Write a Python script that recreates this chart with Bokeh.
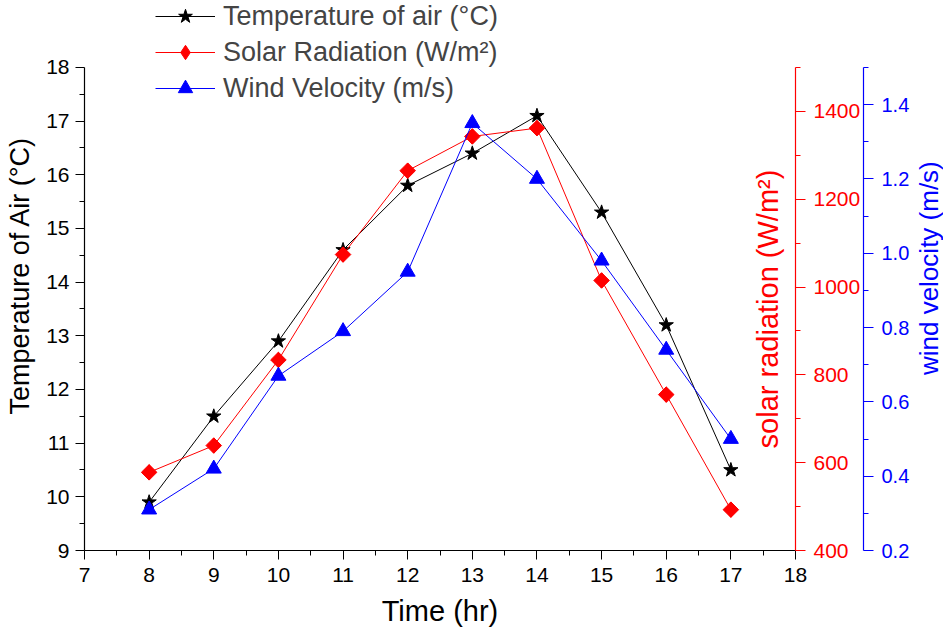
import math
from bokeh.plotting import figure
from bokeh.layouts import row
from bokeh.models import (Range1d, LinearAxis, FixedTicker, PrintfTickFormatter,
                          Label, Legend, LegendItem)
from bokeh.embed import file_html
from bokeh.resources import INLINE

# ---- data ----
time_hr = [8, 9, 10, 11, 12, 13, 14, 15, 16, 17]
temperature_air = [9.9, 11.5, 12.9, 14.6, 15.8, 16.4, 17.1, 15.3, 13.2, 10.5]
solar_radiation = [578, 639, 834, 1074, 1265, 1343, 1362, 1015, 755, 493]
wind_velocity = [0.31, 0.42, 0.67, 0.79, 0.95, 1.35, 1.20, 0.98, 0.74, 0.50]

x_ticks = [7, 8, 9, 10, 11, 12, 13, 14, 15, 16, 17, 18]
x_minor = [7.5, 8.5, 9.5, 10.5, 11.5, 12.5, 13.5, 14.5, 15.5, 16.5, 17.5]
temp_ticks = [9, 10, 11, 12, 13, 14, 15, 16, 17, 18]
temp_minor = [9.5, 10.5, 11.5, 12.5, 13.5, 14.5, 15.5, 16.5, 17.5]
solar_ticks = [400, 600, 800, 1000, 1200, 1400]
solar_minor = [500, 700, 900, 1100, 1300, 1500]
wind_ticks = [0.2, 0.4, 0.6, 0.8, 1.0, 1.2, 1.4]
wind_minor = [0.3, 0.5, 0.7, 0.9, 1.1, 1.3, 1.5]

FONT = "Liberation Sans"
TICK_FS = "21px"
LABEL_FS = "29px"

# The plotting frame reaches the top of the canvas so that the legend (which
# sits partly above the axes' ends) is not clipped; axis bounds stop the axes
# at their nominal ends (18 degC, 1500 W/m2, 1.5 m/s).
p = figure(width=912, height=634, x_range=Range1d(7, 18), y_range=Range1d(9, 19.248),
           output_backend="svg", toolbar_location=None,
           min_border_left=84, min_border_right=0, min_border_top=0, min_border_bottom=84)
p.extra_y_ranges = {"solar": Range1d(400, 1652.6), "wind": Range1d(0.2, 1.6803)}
p.xgrid.visible = False
p.ygrid.visible = False
p.outline_line_color = None
p.background_fill_color = "white"


def style_axis(ax, color, label=None):
    ax.axis_line_color = color
    ax.axis_line_width = 1.2
    ax.major_tick_line_color = color
    ax.minor_tick_line_color = color
    ax.major_tick_in = 0
    ax.major_tick_out = 9
    ax.minor_tick_in = 0
    ax.minor_tick_out = 5
    ax.major_label_text_color = color
    ax.major_label_text_font = FONT
    ax.major_label_text_font_size = TICK_FS
    ax.major_label_standoff = 6
    ax.axis_label_text_color = color
    ax.axis_label_text_font = FONT
    ax.axis_label_text_font_size = LABEL_FS
    ax.axis_label_text_font_style = "normal"
    if label is not None:
        ax.axis_label = label


xax = p.xaxis[0]
xax.ticker = FixedTicker(ticks=x_ticks, minor_ticks=x_minor)
style_axis(xax, "black", "Time (hr)")
xax.major_label_standoff = 8
xax.axis_label_standoff = 10

yax = p.yaxis[0]
yax.ticker = FixedTicker(ticks=temp_ticks, minor_ticks=temp_minor)
yax.bounds = (9, 18)
style_axis(yax, "black", "Temperature of Air (°C)")
yax.axis_label_text_font_size = "27px"
yax.axis_label_standoff = 8

solar_axis = LinearAxis(y_range_name="solar", bounds=(400, 1500),
                        ticker=FixedTicker(ticks=solar_ticks, minor_ticks=solar_minor))
style_axis(solar_axis, "red")
solar_axis.major_tick_out = 10
solar_axis.major_label_standoff = 8
p.add_layout(solar_axis, "right")

wind_axis = LinearAxis(y_range_name="wind", bounds=(0.2, 1.5),
                       ticker=FixedTicker(ticks=wind_ticks, minor_ticks=wind_minor),
                       formatter=PrintfTickFormatter(format="%.1f"))
style_axis(wind_axis, "blue")
wind_axis.major_tick_out = 10
wind_axis.major_label_standoff = 8
wind_axis.major_label_text_font_size = "20px"
p.add_layout(wind_axis, "right")

solar_label = Label(x=17.57, y=950, y_range_name="solar", text="solar radiation (W/m²)",
                    angle=math.pi / 2, text_align="center", text_baseline="middle",
                    text_color="red", text_font=FONT, text_font_size=LABEL_FS)
p.add_layout(solar_label)

# ---- series ----
l1 = p.line(time_hr, temperature_air, line_color="black", line_width=1)
m1 = p.scatter(time_hr, temperature_air, marker="star", size=15,
               fill_color="black", line_color="black")

l2 = p.line(time_hr, solar_radiation, y_range_name="solar", line_color="red", line_width=1)
m2 = p.scatter(time_hr, solar_radiation, y_range_name="solar", marker="diamond", size=15,
               fill_color="red", line_color="red")
m2b = p.scatter(time_hr, solar_radiation, y_range_name="solar", marker="square", size=11,
                angle=math.pi / 4, fill_color="red", line_color="red")

l3 = p.line(time_hr, wind_velocity, y_range_name="wind", line_color="blue", line_width=1)
m3 = p.scatter(time_hr, wind_velocity, y_range_name="wind", marker="triangle", size=15,
               fill_color="blue", line_color="blue")

legend = Legend(items=[
    LegendItem(label="Temperature of air (°C)", renderers=[l1, m1]),
    LegendItem(label="Solar Radiation (W/m²)", renderers=[l2, m2]),
    LegendItem(label="Wind Velocity (m/s)", renderers=[l3, m3]),
], location=(71, 444))
legend.background_fill_alpha = 0
legend.border_line_color = None
legend.padding = 0
legend.margin = 0
legend.spacing = 0
legend.glyph_width = 60
legend.glyph_height = 36
legend.label_height = 36
legend.label_standoff = 8
legend.label_text_font = FONT
legend.label_text_font_size = "27px"
p.add_layout(legend)

# narrow strip on the right carrying the wind-velocity axis title (reads bottom-to-top)
p2 = figure(width=31, height=634, x_range=Range1d(0, 31), y_range=Range1d(0, 634),
            output_backend="svg", toolbar_location=None,
            min_border_left=0, min_border_right=0, min_border_top=0, min_border_bottom=0,
            x_axis_type=None, y_axis_type=None)
p2.xgrid.visible = False
p2.ygrid.visible = False
p2.outline_line_color = None
wind_label = Label(x=16, y=325.5, text="wind velocity (m/s)", angle=math.pi / 2,
                   text_align="center", text_baseline="middle", text_color="blue",
                   text_font=FONT, text_font_size="26px")
p2.add_layout(wind_label)

layout = row(p, p2, spacing=0)
open("out.html", "w").write(file_html(layout, INLINE))
